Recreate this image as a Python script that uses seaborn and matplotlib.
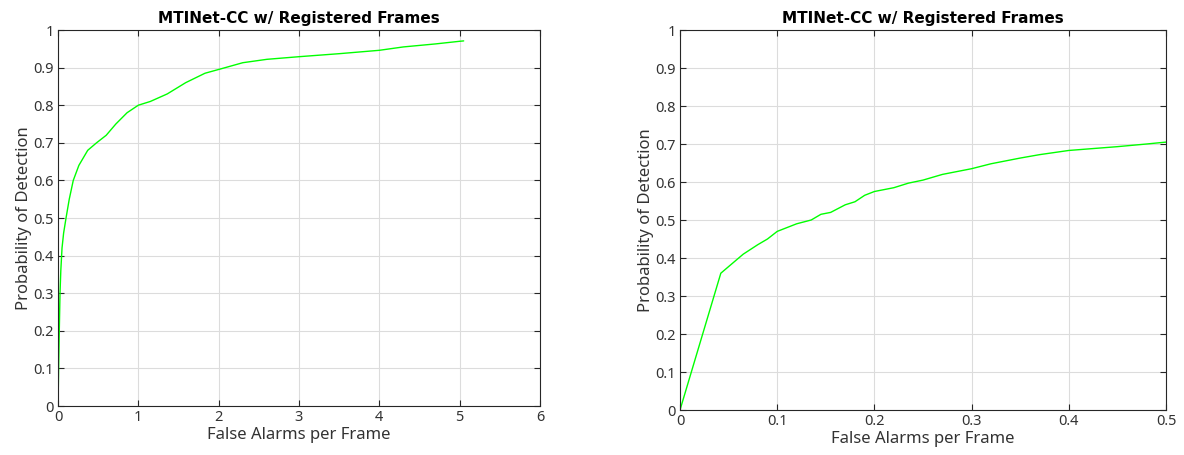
import numpy as np
import pandas as pd
import matplotlib
matplotlib.use("Agg")
import matplotlib.pyplot as plt
import seaborn as sns

# Left panel data (false alarms per frame vs probability of detection)
left_fa = [0.0, 0.004, 0.008, 0.016, 0.025, 0.035, 0.05, 0.07, 0.1, 0.14, 0.19, 0.26, 0.37, 0.48,
           0.6, 0.72, 0.86, 1.0, 1.15, 1.36, 1.59, 1.83, 2.05, 2.3, 2.6, 3.0, 3.5, 4.0, 4.3, 4.7, 5.0, 5.05]
left_pd = [0.0, 0.05, 0.1, 0.2, 0.3, 0.36, 0.42, 0.46, 0.5, 0.55, 0.6, 0.64, 0.68, 0.7,
           0.72, 0.75, 0.78, 0.8, 0.81, 0.83, 0.86, 0.885, 0.898, 0.913, 0.922, 0.929, 0.937, 0.946, 0.955, 0.963, 0.970, 0.971]

# Right panel data (zoomed range)
right_fa = [0.0, 0.042, 0.065, 0.08, 0.09, 0.1, 0.12, 0.135, 0.145, 0.155, 0.17, 0.18, 0.19, 0.2, 0.22,
            0.235, 0.25, 0.27, 0.3, 0.32, 0.35, 0.37, 0.4, 0.42, 0.45, 0.48, 0.5]
right_pd = [0.0, 0.36, 0.41, 0.435, 0.45, 0.47, 0.49, 0.50, 0.515, 0.52, 0.54, 0.548, 0.565, 0.575, 0.585,
            0.597, 0.605, 0.62, 0.635, 0.648, 0.663, 0.672, 0.683, 0.687, 0.693, 0.70, 0.705]

title = "MTINet-CC w/ Registered Frames"
xlabel = "False Alarms per Frame"
ylabel = "Probability of Detection"

sns.set_theme(style="white")
plt.rcParams['font.family'] = ['Noto Sans', 'DejaVu Sans']

fig = plt.figure(figsize=(11.84, 4.55), dpi=100)
ax1 = fig.add_axes([58/1184, 1-406/455, (540-58)/1184, (406-30)/455])
ax2 = fig.add_axes([680/1184, 1-410/455, (1166-680)/1184, (410-30)/455])

green = "#00ff00"
txtc = "#333333"

def style(ax, xlim, xticks, xticklabels):
    ax.set_xlim(*xlim)
    ax.set_ylim(0, 1)
    ax.set_xticks(xticks)
    ax.set_xticklabels(xticklabels)
    yt = np.round(np.arange(0, 1.01, 0.1), 1)
    ax.set_yticks(yt)
    ax.set_yticklabels(["0" if v == 0 else ("1" if v == 1 else f"{v:g}") for v in yt])
    ax.grid(True, color="#dcdcdc", linewidth=0.8)
    ax.set_axisbelow(True)
    for s in ax.spines.values():
        s.set_color("#262626")
        s.set_linewidth(0.8)
        s.set_visible(True)
    ax.tick_params(direction="in", length=4, width=0.8, colors="#262626", labelcolor=txtc,
                   labelsize=10.5, top=True, right=True, bottom=True, left=True, pad=3)
    ax.set_title(title, fontsize=11, fontweight="bold", color="black", pad=5,
                 family=['DejaVu Sans'])
    ax.set_xlabel(xlabel, fontsize=12, color=txtc, labelpad=1)
    ax.set_ylabel(ylabel, fontsize=12, color=txtc, labelpad=1)

df1 = pd.DataFrame({"fa": left_fa, "pd": left_pd})
df2 = pd.DataFrame({"fa": right_fa, "pd": right_pd})
sns.lineplot(data=df1, x="fa", y="pd", ax=ax1, color=green, linewidth=1.0, sort=False, estimator=None)
sns.lineplot(data=df2, x="fa", y="pd", ax=ax2, color=green, linewidth=1.0, sort=False, estimator=None)

style(ax1, (0, 6), range(0, 7), [str(i) for i in range(0, 7)])
style(ax2, (0, 0.5), [0, 0.1, 0.2, 0.3, 0.4, 0.5], ["0", "0.1", "0.2", "0.3", "0.4", "0.5"])

fig.savefig("out.png", dpi=100, facecolor="white")
